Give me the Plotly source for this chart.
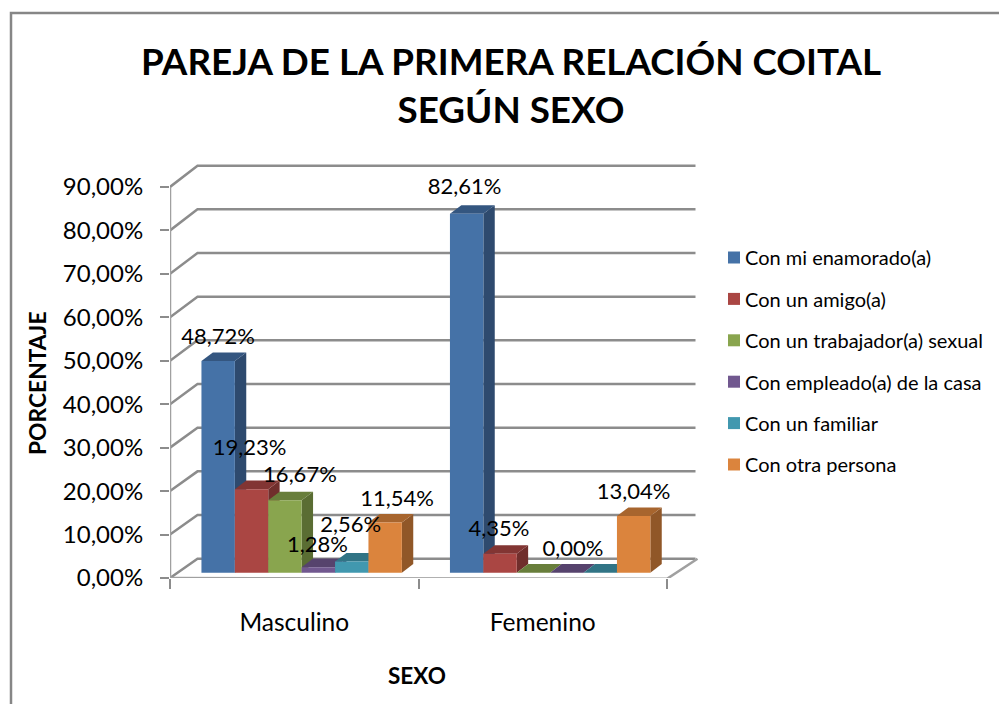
import plotly.graph_objects as go

# ---- data ----
groups = ["Masculino", "Femenino"]
series = ["Con mi enamorado(a)", "Con un amigo(a)", "Con un trabajador(a) sexual",
          "Con empleado(a) de la casa", "Con un familiar", "Con otra persona"]
enamorado = [48.72, 82.61]
amigo = [19.23, 4.35]
trabajador = [16.67, 0.00]
empleado = [1.28, 0.00]
familiar = [2.56, 0.00]
otra = [11.54, 13.04]
y_ticks = [0, 10, 20, 30, 40, 50, 60, 70, 80, 90]
y_labels = ["0,00%", "10,00%", "20,00%", "30,00%", "40,00%", "50,00%", "60,00%", "70,00%", "80,00%", "90,00%"]
title_text = "PAREJA DE LA PRIMERA RELACIÓN COITAL<br>SEGÚN SEXO"
x_title = "SEXO"
y_title = "PORCENTAJE"

# ---- style / layout ----
values = [enamorado, amigo, trabajador, empleado, familiar, otra]
front = ["#4572A7", "#AA4643", "#89A54E", "#71588F", "#4198AF", "#DB843D"]
side = ["#2E4A6E", "#702E2C", "#5A6D33", "#4A3A5E", "#2B6473", "#905728"]
top = ["#345680", "#823533", "#687E3B", "#56436D", "#317485", "#A7652E"]
FONT = "Lato"
W, H = 999, 704
ML, MR, MT, MB = 170, 300, 163, 126
PXX, PXY = 248.5, 4.345            # pixels per x unit / per percent
XMAX = (W - ML - MR) / PXX
YMAX = (H - MT - MB) / PXY
BAR_W = 33.4 / PXX
BAR_OFF = -92.8 / PXX
BASE = 5.3 / PXY                   # floor inset of the bars
DX, DY = 11.4 / PXX, 8.6 / PXY     # bar depth
WALL_L = 27.5 / PXX
WALL_R = 525.5 / PXX
GRID = "#8C8C8C"


def wall(v):
    return v * 1.005 + 4.44


def px(x):
    return (x - ML) / (W - ML - MR)


def py(y):
    return (H - MB - y) / (H - MT - MB)


fig = go.Figure()

# walls and floor
gx, gy = [], []
for v in y_ticks:
    gx += [0, WALL_L, WALL_R, None]
    gy += [v, wall(v), wall(v), None]
fig.add_trace(go.Scatter(x=gx, y=gy, mode="lines", line=dict(color=GRID, width=2.5),
                         showlegend=False, hoverinfo="skip", cliponaxis=False))
fig.add_trace(go.Scatter(x=[0, 0, None, 0, 2, 2 + (WALL_R + 2 / PXX - 2)],
                         y=[0, 90, None, 0, -0.2, wall(0)],
                         mode="lines", line=dict(color="#A0A0A0", width=2.5),
                         showlegend=False, hoverinfo="skip", cliponaxis=False))

# depth faces of the bars
for i, vals in enumerate(values):
    for g, v in enumerate(vals):
        x0 = g + 0.5 + BAR_OFF + i * BAR_W
        x1 = x0 + BAR_W
        t = BASE + v
        fig.add_trace(go.Scatter(x=[x1, x1 + DX, x1 + DX, x1, x1], y=[BASE, BASE + DY, t + DY, t, BASE],
                                 mode="lines", fill="toself", fillcolor=side[i], line=dict(width=0),
                                 showlegend=False, hoverinfo="skip"))
        fig.add_trace(go.Scatter(x=[x0, x1, x1 + DX, x0 + DX, x0], y=[t, t, t + DY, t + DY, t],
                                 mode="lines", fill="toself", fillcolor=top[i], line=dict(width=0),
                                 showlegend=False, hoverinfo="skip"))

# front faces, on an overlaid copy of the axes so they cover the depth faces
for i, vals in enumerate(values):
    fig.add_trace(go.Bar(x=[0.5, 1.5], y=vals, base=BASE, width=BAR_W, offset=BAR_OFF + i * BAR_W,
                         name=series[i], legendgroup=series[i], marker=dict(color=front[i], line=dict(width=0)),
                         xaxis="x2", yaxis="y2", hovertemplate="%{x}: %{y:.2f}%<extra>" + series[i] + "</extra>"))

# data labels: offset in pixels from the bar's top-centre
label_off = {(0, 0): (0, -23), (1, 0): (-2, -39.5), (2, 0): (15, -24), (3, 0): (-1, -21), (4, 0): (-1, -35),
             (5, 0): (12, -22), (0, 1): (-2, -25), (1, 1): (-1, -23), (3, 1): (6, -22), (5, 1): (0, -23)}
lx, ly, lt = [], [], []
for (i, g), (dx, dy) in label_off.items():
    v = values[i][g]
    lx.append(g + 0.5 + BAR_OFF + (i + 0.5) * BAR_W + dx / PXX)
    ly.append(BASE + v - dy / PXY)
    lt.append(f"{v:.2f}".replace(".", ",") + "%")
fig.add_trace(go.Scatter(x=lx, y=ly, text=lt, mode="text", textposition="middle center",
                         textfont=dict(family=FONT, size=22, color="black"), xaxis="x2", yaxis="y2",
                         showlegend=False, hoverinfo="skip", cliponaxis=False))

frame = dict(type="path", xref="paper", yref="paper",
             path=f"M{px(11)},{py(704)} L{px(11)},{py(13)} L{px(999)},{py(13)}",
             line=dict(color="#868686", width=2.5))


def label(text, x, y, size, angle=0):
    return dict(text=f"<b>{text}</b>", x=px(x), y=py(y), xref="paper", yref="paper", showarrow=False,
                textangle=angle, xanchor="center", yanchor="middle",
                font=dict(family=FONT, size=size, color="black"))


fig.update_layout(
    width=W, height=H, margin=dict(l=ML, r=MR, t=MT, b=MB, autoexpand=False), autosize=False,
    paper_bgcolor="white", plot_bgcolor="white", barmode="overlay",
    font=dict(family=FONT, color="black"),
    title=dict(text=title_text, x=px(511), xanchor="center", xref="paper", y=1 - 75 / H, yanchor="middle",
               font=dict(family=FONT, size=36.8, color="black", weight="bold")),
    xaxis=dict(range=[0, XMAX], tickmode="array", tickvals=[0.5, 1.5], ticktext=groups, ticks="",
               showgrid=False, zeroline=False, showline=False, tickfont=dict(family=FONT, size=24.5),
               ticklabelstandoff=27,
               minor=dict(tickmode="array", tickvals=[0, 1, 2], ticks="outside", ticklen=10, tickwidth=2,
                          tickcolor=GRID, showgrid=False)),
    yaxis=dict(range=[0, YMAX], tickmode="array", tickvals=y_ticks, ticktext=y_labels, ticks="outside",
               ticklen=9, tickwidth=2, tickcolor=GRID, showgrid=False, zeroline=False, showline=False,
               tickfont=dict(family=FONT, size=24), ticklabelstandoff=12),
    xaxis2=dict(range=[0, XMAX], overlaying="x", visible=False),
    yaxis2=dict(range=[0, YMAX], overlaying="y", visible=False),
    legend=dict(x=px(714), y=py(257 - 19), xanchor="left", yanchor="top", tracegroupgap=12.4,
                font=dict(family=FONT, size=20, color="black"), traceorder="grouped",
                bgcolor="rgba(0,0,0,0)"),
    shapes=[frame],
    annotations=[label(x_title, 417, 675, 22.5), label(y_title, 37, 383, 22.8, -90)],
)

fig.write_html("out.html", config=dict(displayModeBar=False),
               post_script="document.body.style.margin='0';"
               "document.querySelectorAll('.legendtext').forEach(t=>t.setAttribute('x',31));")
